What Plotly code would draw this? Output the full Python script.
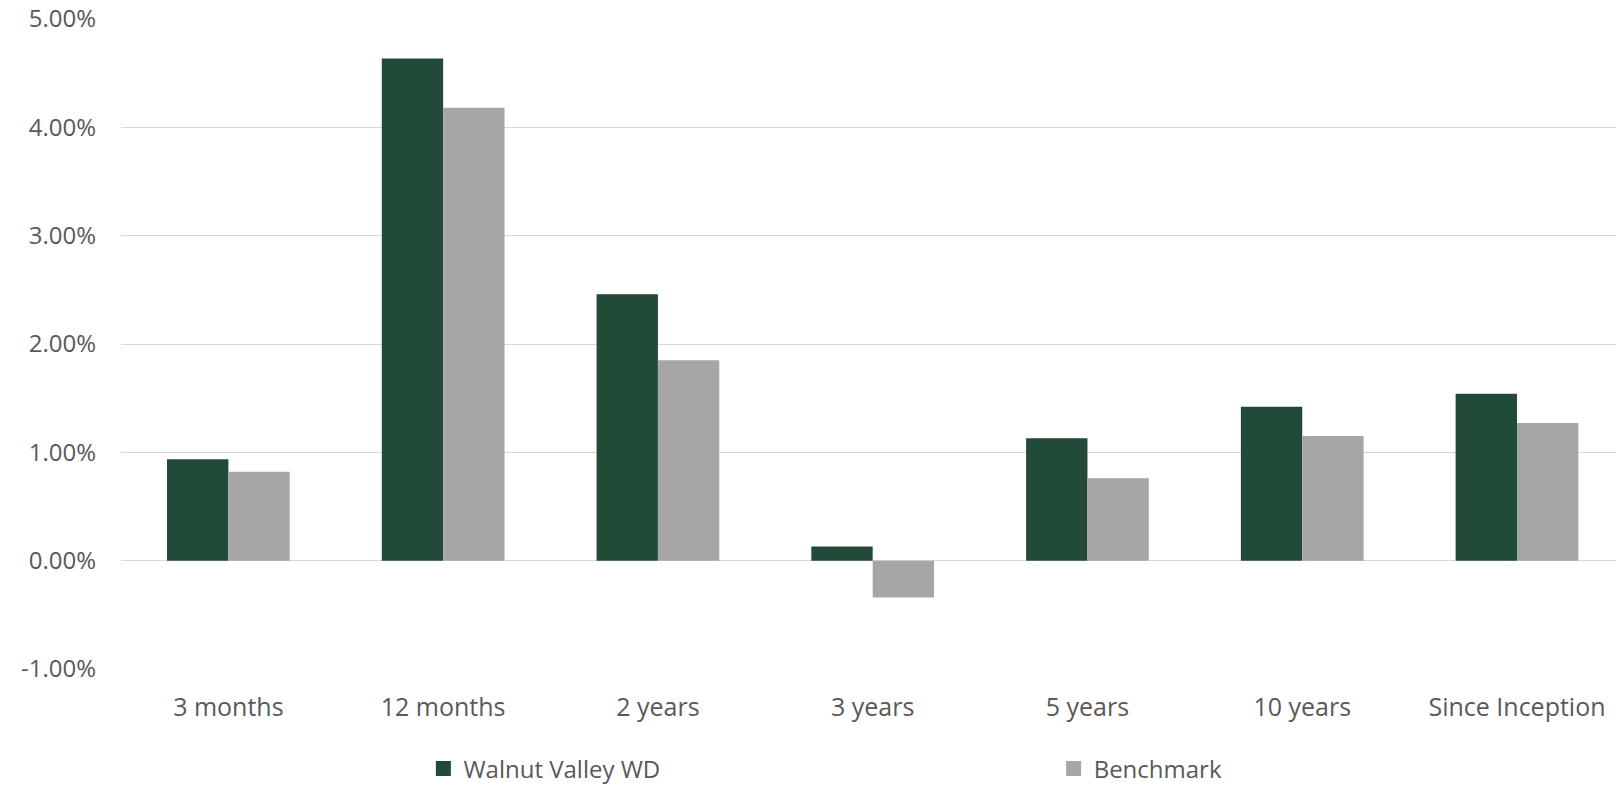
import plotly.graph_objects as go

# Trailing returns by period (percent)
periods = ["3 months", "12 months", "2 years", "3 years", "5 years", "10 years", "Since Inception"]
walnut_valley = [0.935, 4.635, 2.46, 0.13, 1.13, 1.42, 1.54]
benchmark = [0.82, 4.18, 1.85, -0.34, 0.76, 1.15, 1.27]

y_ticks = [-1, 0, 1, 2, 3, 4, 5]
y_tick_text = ["-1.00%", "0.00%", "1.00%", "2.00%", "3.00%", "4.00%", "5.00%"]

GREEN = "#214B38"
GREY = "#A6A6A6"
TEXT = "#595959"
GRID = "#D9D9D9"
FONT = "Open Sans"

series = [("Walnut Valley WD", walnut_valley, GREEN, "legend"),
          ("Benchmark", benchmark, GREY, "legend2")]

fig = go.Figure()
for name, values, color, leg in series:
    fig.add_trace(go.Bar(name=name, x=periods, y=values, showlegend=False,
                         marker=dict(color=color, line=dict(width=0))))
for name, values, color, leg in series:
    # legend key: larger square swatch than the default bar icon
    fig.add_trace(go.Scatter(name=name, x=[None], y=[None], mode="markers",
                             marker=dict(symbol="square", size=15, color=color),
                             legend=leg, hoverinfo="skip"))

legend_common = dict(orientation="h", xanchor="left", yanchor="middle",
                     xref="container", yref="container", y=0.0204,
                     font=dict(size=24, color=TEXT, family=FONT),
                     bgcolor="rgba(0,0,0,0)")

fig.update_layout(
    width=1616, height=785,
    margin=dict(l=121, r=0, t=19, b=116, autoexpand=False),
    paper_bgcolor="white", plot_bgcolor="white",
    barmode="group", bargap=0.4286, bargroupgap=0,
    font=dict(family=FONT, color=TEXT),
    showlegend=True,
    legend=dict(x=0.2620, **legend_common),
    legend2=dict(x=0.6520, **legend_common),
)
fig.update_xaxes(
    type="category", range=[-0.5, 6.461], automargin=False,
    showgrid=False, showline=False, zeroline=False, ticks="",
    tickfont=dict(size=25, color=TEXT, family=FONT),
    ticklabelstandoff=21,
)
fig.update_yaxes(
    range=[-1, 5], tickvals=y_ticks, ticktext=y_tick_text, automargin=False,
    showgrid=True, gridcolor=GRID, gridwidth=1.4,
    zeroline=True, zerolinecolor=GRID, zerolinewidth=1.4,
    showline=False, ticks="",
    tickfont=dict(size=24, color=TEXT, family=FONT),
    ticklabelstandoff=24,
)

fig.write_html("out.html")
